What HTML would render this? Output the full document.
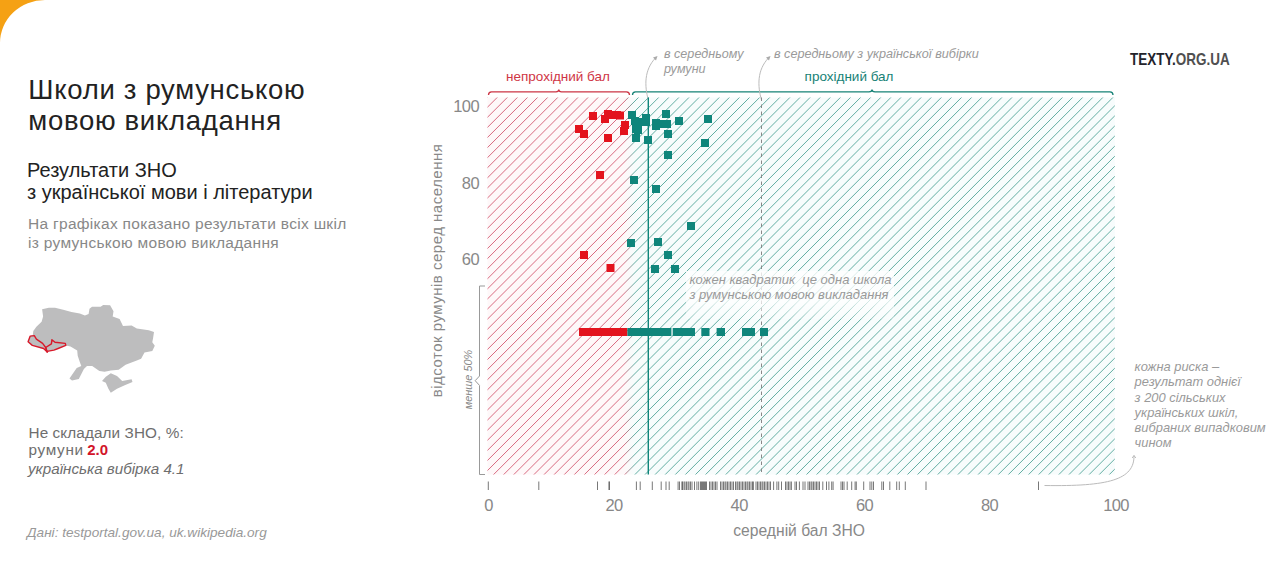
<!DOCTYPE html>
<html><head><meta charset="utf-8"><style>
html,body{margin:0;padding:0;background:#fff;}
svg{display:block;}
text{font-family:"Liberation Sans",sans-serif;}
</style></head><body>
<svg width="1280" height="581" viewBox="0 0 1280 581">
<defs>
<clipPath id="hc"><rect x="487.5" y="97.5" width="627.3" height="377"/></clipPath>
<linearGradient id="bg" gradientUnits="userSpaceOnUse" x1="624" y1="0" x2="634" y2="0"><stop offset="0" stop-color="#fef8f9"/><stop offset="1" stop-color="#f7fcfc"/></linearGradient>
<linearGradient id="boxg" x1="0" y1="0" x2="0" y2="1"><stop offset="0" stop-color="#fff" stop-opacity="0.78"/><stop offset="0.65" stop-color="#fff" stop-opacity="0.72"/><stop offset="1" stop-color="#fff" stop-opacity="0.2"/></linearGradient>
<linearGradient id="hg" gradientUnits="userSpaceOnUse" x1="624" y1="0" x2="634" y2="0">
<stop offset="0" stop-color="#d86a80"/><stop offset="1" stop-color="#62ada2"/>
</linearGradient>
</defs>
<!-- orange corner -->
<path d="M0,0 H45 A45,43 0 0 0 0,43 Z" fill="#f5a114"/>

<!-- titles -->
<text x="28.3" y="99" font-size="27.5" fill="#222" letter-spacing="0.7">Школи з румунською</text>
<text x="28.3" y="129.8" font-size="27.5" fill="#222" letter-spacing="0.7">мовою викладання</text>
<text x="27" y="176.5" font-size="20" fill="#222">Результати ЗНО</text>
<text x="27" y="198.9" font-size="20" fill="#222">з української мови і літератури</text>
<text x="28" y="229" font-size="15.5" fill="#888" letter-spacing="0.3">На графіках показано результати всіх шкіл</text>
<text x="28" y="247.5" font-size="15.5" fill="#888" letter-spacing="0.3">із румунською мовою викладання</text>

<!-- map -->
<polygon points="42.1,309.3 48.8,307.7 55,307.7 63.2,309.8 71.5,311.9 79.8,313.4 84.9,315.5 88.6,313.9 89.5,308.8 92,306.7 100.6,306.7 103.2,305 110.1,305.3 113.5,311.3 112.7,316.5 119.6,319.1 123,326 131.6,325.6 136.8,328.5 148.8,330.3 154,332 153.1,338 152.3,342.3 154.8,345.8 152.3,350.9 144.5,352.6 141.1,358.7 136.8,360.4 125.6,364.7 118.7,369.8 110.8,370.6 104.6,371.7 99.4,371.1 92.2,366 87,366 83.9,369.1 78.8,378.9 72,380.4 69.5,378.4 73.1,373.2 76.7,368 81.3,366 79.8,361.9 77.7,355.7 77.2,350.5 70.5,346.4 65.8,345.4 58.1,348.5 53.9,350.1 48.3,351.1 47.2,352.1 43.6,348.5 32.3,345.4 28.1,341.8 30.2,336.1 32.8,335.1 33.3,331 36.4,326.8 41.6,321.7 43.1,316.5" fill="#bdbdbe"/>
<polygon points="102,381 105.8,376.7 110.8,373.2 117,375.9 122.2,381 131.6,379.3 132.5,381.9 124.7,385.3 117,388.8 110.8,392.8 108.4,388.8 105.8,382.7" fill="#bdbdbe"/>
<polygon points="30.2,336.1 34.3,335.6 36.4,339.2 42.6,343.4 45.7,347.5 47.2,352.1 43.6,348.5 32.3,345.4 28.1,341.8" fill="none" stroke="#d8192a" stroke-width="1.4" stroke-linejoin="round"/>
<polygon points="45.7,347.5 51.4,343.9 51.9,339.7 55,342.3 65.3,343.4 65.8,345.4 58.1,348.5 53.9,350.1 48.3,351.1 47.2,352.1" fill="none" stroke="#d8192a" stroke-width="1.4" stroke-linejoin="round"/>

<text x="28.5" y="437.5" font-size="15.3" fill="#6e6e6e" letter-spacing="0.1">Не складали ЗНО, %:</text>
<text x="28.5" y="455.4" font-size="15.3" fill="#6e6e6e" letter-spacing="0.7">румуни</text>
<text x="87.2" y="455.4" font-size="15" font-weight="bold" fill="#d2142a">2.0</text>
<text x="28" y="473.6" font-size="15.2" fill="#6e6e6e" font-style="italic">українська вибірка 4.1</text>
<text x="27" y="537" font-size="13.6" fill="#999" font-style="italic">Дані: testportal.gov.ua, uk.wikipedia.org</text>

<!-- logo -->
<text transform="translate(1130,64.9) scale(0.855,1)" font-size="15.8" font-weight="bold"><tspan fill="#23232b">TEXTY.</tspan><tspan fill="#505050">ORG.UA</tspan></text>

<!-- hatch -->
<rect x="487.5" y="97.5" width="627.3" height="377" fill="url(#bg)"/>
<path d="M94.47,480L484.47,90M104.57,480L494.57,90M114.66,480L504.66,90M124.75,480L514.75,90M134.85,480L524.85,90M144.94,480L534.94,90M155.04,480L545.04,90M165.13,480L555.13,90M175.22,480L565.22,90M185.32,480L575.32,90M195.41,480L585.41,90M205.51,480L595.51,90M215.60,480L605.60,90M225.69,480L615.69,90M235.79,480L625.79,90M245.88,480L635.88,90M255.98,480L645.98,90M266.07,480L656.07,90M276.16,480L666.16,90M286.26,480L676.26,90M296.35,480L686.35,90M306.45,480L696.45,90M316.54,480L706.54,90M326.63,480L716.63,90M336.73,480L726.73,90M346.82,480L736.82,90M356.92,480L746.92,90M367.01,480L757.01,90M377.10,480L767.10,90M387.20,480L777.20,90M397.29,480L787.29,90M407.39,480L797.39,90M417.48,480L807.48,90M427.57,480L817.57,90M437.67,480L827.67,90M447.76,480L837.76,90M457.86,480L847.86,90M467.95,480L857.95,90M478.04,480L868.04,90M488.14,480L878.14,90M498.23,480L888.23,90M508.33,480L898.33,90M518.42,480L908.42,90M528.51,480L918.51,90M538.61,480L928.61,90M548.70,480L938.70,90M558.80,480L948.80,90M568.89,480L958.89,90M578.98,480L968.98,90M589.08,480L979.08,90M599.17,480L989.17,90M609.27,480L999.27,90M619.36,480L1009.36,90M629.45,480L1019.45,90M639.55,480L1029.55,90M649.64,480L1039.64,90M659.74,480L1049.74,90M669.83,480L1059.83,90M679.92,480L1069.92,90M690.02,480L1080.02,90M700.11,480L1090.11,90M710.21,480L1100.21,90M720.30,480L1110.30,90M730.39,480L1120.39,90M740.49,480L1130.49,90M750.58,480L1140.58,90M760.68,480L1150.68,90M770.77,480L1160.77,90M780.86,480L1170.86,90M790.96,480L1180.96,90M801.05,480L1191.05,90M811.15,480L1201.15,90M821.24,480L1211.24,90M831.33,480L1221.33,90M841.43,480L1231.43,90M851.52,480L1241.52,90M861.62,480L1251.62,90M871.71,480L1261.71,90M881.80,480L1271.80,90M891.90,480L1281.90,90M901.99,480L1291.99,90M912.09,480L1302.09,90M922.18,480L1312.18,90M932.27,480L1322.27,90M942.37,480L1332.37,90M952.46,480L1342.46,90M962.56,480L1352.56,90M972.65,480L1362.65,90M982.74,480L1372.74,90M992.84,480L1382.84,90M1002.93,480L1392.93,90M1013.03,480L1403.03,90M1023.12,480L1413.12,90M1033.21,480L1423.21,90M1043.31,480L1433.31,90M1053.40,480L1443.40,90M1063.50,480L1453.50,90M1073.59,480L1463.59,90M1083.68,480L1473.68,90M1093.78,480L1483.78,90M1103.87,480L1493.87,90M1113.97,480L1503.97,90" stroke="url(#hg)" stroke-width="1" fill="none" clip-path="url(#hc)"/>

<!-- brackets -->
<path d="M488.5,95 Q488.5,91.8 491.5,91.8 H556 Q558.8,91.8 558.8,89.5 Q558.8,91.8 561.5,91.8 H626.5 Q629.5,91.8 629.5,95" fill="none" stroke="#cc3444" stroke-width="1.3"/>
<path d="M632.5,95 Q632.5,91.8 635.5,91.8 H869 Q872,91.8 872,89.5 Q872,91.8 875,91.8 H1110 Q1113,91.8 1113,95" fill="none" stroke="#168276" stroke-width="1.3"/>
<text x="506" y="80.8" font-size="13.5" fill="#cf3545">непрохідний бал</text>
<text x="804.6" y="80.6" font-size="13.5" fill="#168276">прохідний бал</text>

<!-- top annotations -->
<text x="664" y="57.6" font-size="12.6" fill="#9a9a9a" font-style="italic">в середньому</text>
<text x="664" y="72.8" font-size="12.6" fill="#9a9a9a" font-style="italic">румуни</text>
<text x="774" y="58.3" font-size="12.65" fill="#9a9a9a" font-style="italic">в середньому з української вибірки</text>
<path d="M648.3,100 C644.5,86 644,70 655.5,58" fill="none" stroke="#bbb" stroke-width="1"/>
<polygon points="657.5,56 653,57.5 656,60.5" fill="#aaa"/>
<path d="M761.5,100 C757.5,86 757,70 768.5,58" fill="none" stroke="#bbb" stroke-width="1"/>
<polygon points="770.5,56 766,57.5 769,60.5" fill="#aaa"/>

<!-- axis labels -->
<text x="479" y="111.7" font-size="16.5" fill="#888" text-anchor="end" letter-spacing="-0.6">100</text>
<text x="479" y="188.5" font-size="16.5" fill="#888" text-anchor="end" letter-spacing="-0.6">80</text>
<text x="479" y="265.2" font-size="16.5" fill="#888" text-anchor="end" letter-spacing="-0.6">60</text>
<text transform="translate(442,397.3) rotate(-90)" font-size="15" letter-spacing="0.5" fill="#888">відсоток румунів серед населення</text>
<text transform="translate(471.8,409.2) rotate(-90)" font-size="10.9" fill="#888" font-style="italic">менше 50%</text>
<path d="M485,286 H479.5 V376 L475.2,380.7 L479.5,385.4 V474.5 H485" fill="none" stroke="#999" stroke-width="1"/>

<text x="488.5" y="510.6" font-size="16.5" fill="#888" text-anchor="middle" letter-spacing="-0.6">0</text>
<text x="614" y="510.6" font-size="16.5" fill="#888" text-anchor="middle" letter-spacing="-0.6">20</text>
<text x="739.2" y="510.6" font-size="16.5" fill="#888" text-anchor="middle" letter-spacing="-0.6">40</text>
<text x="864.6" y="510.6" font-size="16.5" fill="#888" text-anchor="middle" letter-spacing="-0.6">60</text>
<text x="989.5" y="510.6" font-size="16.5" fill="#888" text-anchor="middle" letter-spacing="-0.6">80</text>
<text x="1116" y="510.6" font-size="16.5" fill="#888" text-anchor="middle" letter-spacing="-0.6">100</text>
<text x="733.3" y="535.7" font-size="15.65" fill="#888">середній бал ЗНО</text>

<!-- rug -->
<g stroke="#444" stroke-width="1" stroke-opacity="0.72"><line x1="488.3" y1="481.5" x2="488.3" y2="490" /><line x1="538.8" y1="481.5" x2="538.8" y2="490" /><line x1="597.5" y1="481.5" x2="597.5" y2="490" /><line x1="609" y1="481.5" x2="609" y2="490" /><line x1="609.4" y1="481.5" x2="609.4" y2="490" /><line x1="636.4" y1="481.5" x2="636.4" y2="490" /><line x1="640.2" y1="481.5" x2="640.2" y2="490" /><line x1="652.3" y1="481.5" x2="652.3" y2="490" /><line x1="661.2" y1="481.5" x2="661.2" y2="490" /><line x1="666" y1="481.5" x2="666" y2="490" /><line x1="669.2" y1="481.5" x2="669.2" y2="490" /><line x1="678.1" y1="481.5" x2="678.1" y2="490" /><line x1="679.5" y1="481.5" x2="679.5" y2="490" /><line x1="681.9" y1="481.5" x2="681.9" y2="490" /><line x1="682.5" y1="481.5" x2="682.5" y2="490" /><line x1="684" y1="481.5" x2="684" y2="490" /><line x1="685" y1="481.5" x2="685" y2="490" /><line x1="686.5" y1="481.5" x2="686.5" y2="490" /><line x1="688" y1="481.5" x2="688" y2="490" /><line x1="689" y1="481.5" x2="689" y2="490" /><line x1="690.5" y1="481.5" x2="690.5" y2="490" /><line x1="692" y1="481.5" x2="692" y2="490" /><line x1="694.5" y1="481.5" x2="694.5" y2="490" /><line x1="696.9" y1="481.5" x2="696.9" y2="490" /><line x1="698.7" y1="481.5" x2="698.7" y2="490" /><line x1="700.5" y1="481.5" x2="700.5" y2="490" /><line x1="701.5" y1="481.5" x2="701.5" y2="490" /><line x1="702.5" y1="481.5" x2="702.5" y2="490" /><line x1="703.5" y1="481.5" x2="703.5" y2="490" /><line x1="704.5" y1="481.5" x2="704.5" y2="490" /><line x1="705.5" y1="481.5" x2="705.5" y2="490" /><line x1="706.5" y1="481.5" x2="706.5" y2="490" /><line x1="709.5" y1="481.5" x2="709.5" y2="490" /><line x1="711" y1="481.5" x2="711" y2="490" /><line x1="712.5" y1="481.5" x2="712.5" y2="490" /><line x1="714" y1="481.5" x2="714" y2="490" /><line x1="715.5" y1="481.5" x2="715.5" y2="490" /><line x1="717" y1="481.5" x2="717" y2="490" /><line x1="720.5" y1="481.5" x2="720.5" y2="490" /><line x1="722" y1="481.5" x2="722" y2="490" /><line x1="723.5" y1="481.5" x2="723.5" y2="490" /><line x1="725" y1="481.5" x2="725" y2="490" /><line x1="726" y1="481.5" x2="726" y2="490" /><line x1="727.5" y1="481.5" x2="727.5" y2="490" /><line x1="729" y1="481.5" x2="729" y2="490" /><line x1="730.5" y1="481.5" x2="730.5" y2="490" /><line x1="732" y1="481.5" x2="732" y2="490" /><line x1="733.5" y1="481.5" x2="733.5" y2="490" /><line x1="735.5" y1="481.5" x2="735.5" y2="490" /><line x1="737" y1="481.5" x2="737" y2="490" /><line x1="738" y1="481.5" x2="738" y2="490" /><line x1="739.5" y1="481.5" x2="739.5" y2="490" /><line x1="741" y1="481.5" x2="741" y2="490" /><line x1="742.5" y1="481.5" x2="742.5" y2="490" /><line x1="744" y1="481.5" x2="744" y2="490" /><line x1="745.5" y1="481.5" x2="745.5" y2="490" /><line x1="747" y1="481.5" x2="747" y2="490" /><line x1="748" y1="481.5" x2="748" y2="490" /><line x1="749.5" y1="481.5" x2="749.5" y2="490" /><line x1="751" y1="481.5" x2="751" y2="490" /><line x1="752.5" y1="481.5" x2="752.5" y2="490" /><line x1="753.4" y1="481.5" x2="753.4" y2="490" /><line x1="756" y1="481.5" x2="756" y2="490" /><line x1="757.5" y1="481.5" x2="757.5" y2="490" /><line x1="759" y1="481.5" x2="759" y2="490" /><line x1="760.5" y1="481.5" x2="760.5" y2="490" /><line x1="762" y1="481.5" x2="762" y2="490" /><line x1="763" y1="481.5" x2="763" y2="490" /><line x1="764.5" y1="481.5" x2="764.5" y2="490" /><line x1="766" y1="481.5" x2="766" y2="490" /><line x1="767.5" y1="481.5" x2="767.5" y2="490" /><line x1="769" y1="481.5" x2="769" y2="490" /><line x1="770.5" y1="481.5" x2="770.5" y2="490" /><line x1="773.6" y1="481.5" x2="773.6" y2="490" /><line x1="776.9" y1="481.5" x2="776.9" y2="490" /><line x1="778.7" y1="481.5" x2="778.7" y2="490" /><line x1="781.5" y1="481.5" x2="781.5" y2="490" /><line x1="785.5" y1="481.5" x2="785.5" y2="490" /><line x1="787" y1="481.5" x2="787" y2="490" /><line x1="788.5" y1="481.5" x2="788.5" y2="490" /><line x1="790" y1="481.5" x2="790" y2="490" /><line x1="791.4" y1="481.5" x2="791.4" y2="490" /><line x1="795" y1="481.5" x2="795" y2="490" /><line x1="796.5" y1="481.5" x2="796.5" y2="490" /><line x1="799.4" y1="481.5" x2="799.4" y2="490" /><line x1="803" y1="481.5" x2="803" y2="490" /><line x1="805" y1="481.5" x2="805" y2="490" /><line x1="808" y1="481.5" x2="808" y2="490" /><line x1="809.5" y1="481.5" x2="809.5" y2="490" /><line x1="811" y1="481.5" x2="811" y2="490" /><line x1="812" y1="481.5" x2="812" y2="490" /><line x1="813.5" y1="481.5" x2="813.5" y2="490" /><line x1="815" y1="481.5" x2="815" y2="490" /><line x1="816.5" y1="481.5" x2="816.5" y2="490" /><line x1="818" y1="481.5" x2="818" y2="490" /><line x1="819.5" y1="481.5" x2="819.5" y2="490" /><line x1="822.8" y1="481.5" x2="822.8" y2="490" /><line x1="826.5" y1="481.5" x2="826.5" y2="490" /><line x1="828.9" y1="481.5" x2="828.9" y2="490" /><line x1="831.7" y1="481.5" x2="831.7" y2="490" /><line x1="833.1" y1="481.5" x2="833.1" y2="490" /><line x1="841" y1="481.5" x2="841" y2="490" /><line x1="842.5" y1="481.5" x2="842.5" y2="490" /><line x1="844" y1="481.5" x2="844" y2="490" /><line x1="847.2" y1="481.5" x2="847.2" y2="490" /><line x1="851.7" y1="481.5" x2="851.7" y2="490" /><line x1="855.1" y1="481.5" x2="855.1" y2="490" /><line x1="856.3" y1="481.5" x2="856.3" y2="490" /><line x1="863.7" y1="481.5" x2="863.7" y2="490" /><line x1="870" y1="481.5" x2="870" y2="490" /><line x1="871.8" y1="481.5" x2="871.8" y2="490" /><line x1="873.5" y1="481.5" x2="873.5" y2="490" /><line x1="881.8" y1="481.5" x2="881.8" y2="490" /><line x1="883.5" y1="481.5" x2="883.5" y2="490" /><line x1="889.8" y1="481.5" x2="889.8" y2="490" /><line x1="896.7" y1="481.5" x2="896.7" y2="490" /><line x1="899.3" y1="481.5" x2="899.3" y2="490" /><line x1="905.3" y1="481.5" x2="905.3" y2="490" /><line x1="926" y1="481.5" x2="926" y2="490" /><line x1="1038.5" y1="481.5" x2="1038.5" y2="490" /></g>

<!-- lines -->
<line x1="648.3" y1="97.5" x2="648.3" y2="474.5" stroke="#0f857b" stroke-width="1.4"/>
<line x1="761.5" y1="97.5" x2="761.5" y2="474.5" stroke="#888" stroke-width="1" stroke-dasharray="3.5,3.5"/>

<!-- annotation box -->
<rect x="686" y="271" width="208" height="48" fill="url(#boxg)"/>
<text x="689.4" y="283.7" font-size="13" fill="#9a9a9a" font-style="italic">кожен квадратик&#160; це одна школа</text>
<text x="689.4" y="299.2" font-size="13" fill="#9a9a9a" font-style="italic">з румунською мовою викладання</text>

<!-- squares -->
<g fill="#e3131d"><rect x="589" y="112" width="8" height="8"/><rect x="575" y="125" width="8" height="8"/><rect x="580" y="130" width="8" height="8"/><rect x="604" y="134" width="8" height="8"/><rect x="601" y="115" width="8" height="8"/><rect x="604" y="110" width="8" height="8"/><rect x="609" y="111" width="8" height="8"/><rect x="613" y="111" width="8" height="8"/><rect x="616" y="111.5" width="8" height="8"/><rect x="621" y="121" width="8" height="8"/><rect x="620" y="127" width="8" height="8"/><rect x="596" y="171" width="8" height="8"/><rect x="580" y="251" width="8" height="8"/><rect x="606.5" y="264" width="8" height="8"/></g>
<g fill="#0f857b"><rect x="628" y="111" width="8" height="8"/><rect x="631" y="117" width="8" height="8"/><rect x="634" y="118" width="8" height="8"/><rect x="632" y="125" width="8" height="8"/><rect x="634" y="126" width="8" height="8"/><rect x="632" y="134" width="8" height="8"/><rect x="642" y="114" width="8" height="8"/><rect x="642" y="118" width="8" height="8"/><rect x="644" y="136" width="8" height="8"/><rect x="652" y="119" width="8" height="8"/><rect x="652" y="122" width="8" height="8"/><rect x="660" y="120" width="8" height="8"/><rect x="663" y="120" width="8" height="8"/><rect x="662" y="110" width="8" height="8"/><rect x="664" y="130" width="8" height="8"/><rect x="675" y="117" width="8" height="8"/><rect x="704" y="115" width="8" height="8"/><rect x="701" y="139" width="8" height="8"/><rect x="664" y="151" width="8" height="8"/><rect x="630" y="176" width="8" height="8"/><rect x="652" y="185" width="8" height="8"/><rect x="687" y="222" width="8" height="8"/><rect x="627" y="239" width="8" height="8"/><rect x="654" y="238" width="8" height="8"/><rect x="664" y="251" width="8" height="8"/><rect x="651" y="265" width="8" height="8"/><rect x="671" y="265" width="8" height="8"/></g>

<!-- bar row -->
<rect x="579" y="328" width="48.4" height="8" fill="#e3131d"/>
<rect x="627.4" y="328" width="44" height="8" fill="#0f857b"/>
<rect x="672.7" y="328" width="22.3" height="8" fill="#0f857b"/>
<rect x="701.3" y="328" width="8.2" height="8" fill="#0f857b"/>
<rect x="716.6" y="328" width="8.4" height="8" fill="#0f857b"/>
<rect x="742" y="328" width="13" height="8" fill="#0f857b"/>
<rect x="760" y="328" width="8" height="8" fill="#0f857b"/>

<!-- right annotation -->
<g font-size="12.9" fill="#9a9a9a" font-style="italic">
<text x="1134.6" y="371.2">кожна риска –</text>
<text x="1134.6" y="386.3">результат однієї</text>
<text x="1134.6" y="401.5">з 200 сільських</text>
<text x="1134.6" y="416.6">українських шкіл,</text>
<text x="1134.6" y="431.8">вибраних випадковим</text>
<text x="1134.6" y="446.9">чином</text>
</g>
<path d="M1044.5,485.5 C1108,486.5 1134.5,480 1134,455.5" fill="none" stroke="#bbb" stroke-width="1"/>
<path d="M1132.2,458 L1134,455.5 L1135.8,458" fill="none" stroke="#bbb" stroke-width="1"/>
</svg>
</body></html>
